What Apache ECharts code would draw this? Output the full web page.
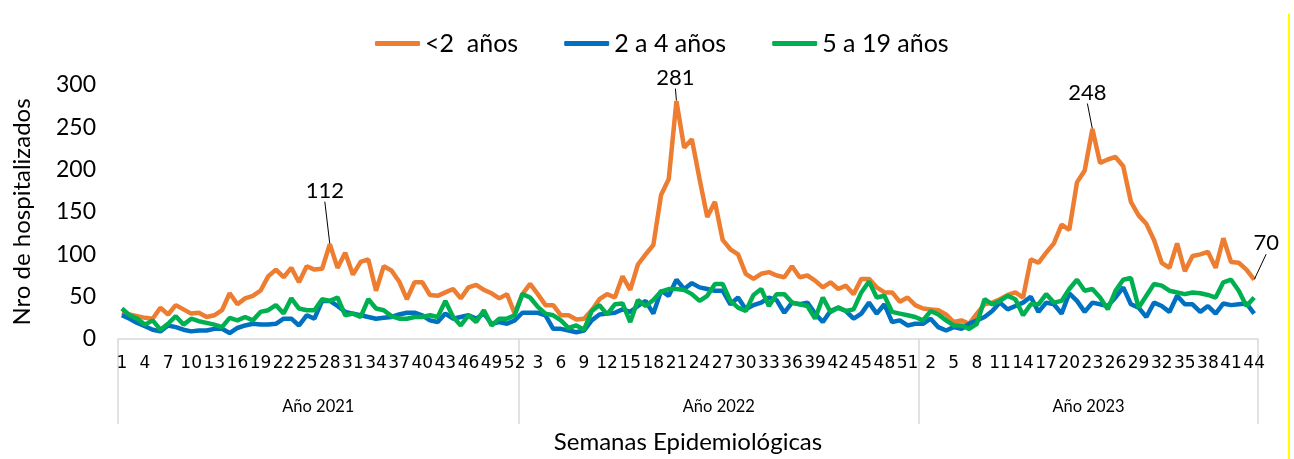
<!doctype html>
<html>
<head>
<meta charset="UTF-8">
<title>Hospitalizados por semana epidemiológica</title>
<script src="https://cdn.jsdelivr.net/npm/echarts@6/dist/echarts.min.js"></script>
<style>
  html, body { margin: 0; padding: 0; background: #fff; }
  #chart { width: 1294px; height: 459px; }
</style>
</head>
<body>
<div id="chart"></div>
<script>
// semanas por año
var semanas2021 = [];
for (var w = 1; w <= 52; w++) semanas2021.push(w);
var semanas2022 = semanas2021.slice();
var semanas2023 = semanas2021.slice(0, 44);
var anios = ['Año 2021', 'Año 2022', 'Año 2023'];

// <2 años
var menores2_2021 = [31,29,27,25,24,37,29,40,35,30, 31,26,28,34,54,41,48,51,57,74,
  82,73,84,67,86,82,83,112,84,102, 76,91,94,57,86,81,68,47,67,67,
  52,51,55,59,48,61,64,58,54,48, 53,30];
var menores2_2022 = [53,65,53,40,40,28,28,23,24,34, 47,53,49,74,58,88,100,111,170,189,
  281,226,236,189,144,162,117,106,100,77, 71,77,79,75,73,86,73,75,69,61,
  67,59,63,53,71,71,61,55,55,44, 49,40];
var menores2_2023 = [36,35,34,29,20,22,18,30,41,43, 47,52,55,49,94,90,102,113,135,129,
  185,199,248,208,212,215,204,162,146,136, 117,90,84,113,80,98,100,103,84,119,
  91,90,82,70];

// 2 a 4 años
var de2a4_2021 = [28,24,19,15,11,9,16,14,11,9, 10,10,12,12,7,13,16,18,17,17,
  18,24,24,16,28,24,45,45,39,32, 30,28,26,24,25,26,29,31,31,28,
  22,20,30,24,26,28,24,30,18,20, 18,22];
var de2a4_2022 = [31,31,31,28,12,12,10,8,10,22, 29,30,31,35,32,39,45,30,57,51,
  70,59,66,61,59,57,57,41,49,35, 40,43,49,46,31,43,41,43,30,20,
  33,37,33,24,30,43,30,41,20,22, 16,18];
var de2a4_2023 = [18,24,14,10,14,12,18,22,26,33, 43,35,39,43,50,32,43,41,30,54,
  45,32,43,41,39,49,61,41,37,26, 43,39,32,51,41,41,32,39,30,42,
  40,41,42,30];

// 5 a 19 años
var de5a19_2021 = [36,28,24,17,22,11,18,27,17,24, 21,19,17,14,25,22,26,22,32,34,
  40,30,48,36,34,34,47,45,49,28, 30,26,47,36,34,27,24,24,26,26,
  28,26,45,26,16,28,20,34,16,24, 24,28];
var de5a19_2022 = [53,49,38,30,28,22,13,16,11,33, 40,29,41,42,20,46,39,46,56,59,
  59,58,53,45,51,65,65,45,37,33, 52,59,39,53,53,43,41,39,24,49,
  32,37,33,35,55,68,49,51,32,30, 28,26];
var de5a19_2023 = [22,33,29,22,16,16,12,18,47,41, 45,51,47,28,41,41,53,43,45,59,
  70,57,59,49,35,57,70,72,37,51, 65,63,57,55,53,55,54,52,49,67,
  70,57,39,49];

var fuente = 'Lato, "Open Sans", sans-serif';
var fuenteEje = '"DejaVu Sans", sans-serif';

// categorias unicas "año|semana"
var categorias = [];
[semanas2021, semanas2022, semanas2023].forEach(function (arr, k) {
  arr.forEach(function (s) { categorias.push(k + '|' + s); });
});
var menores2 = menores2_2021.concat(menores2_2022, menores2_2023);
var de2a4 = de2a4_2021.concat(de2a4_2022, de2a4_2023);
var de5a19 = de5a19_2021.concat(de5a19_2022, de5a19_2023);

// limites y centros de cada año en el eje
var limites = [0], centros = [];
[semanas2021, semanas2022, semanas2023].forEach(function (arr, k) {
  centros.push(limites[k] + arr.length / 2);
  limites.push(limites[k] + arr.length);
});

// etiquetas de valores destacados: desplazamiento [dx, dy]
var destacados = {};
destacados[27] = [-5, -37];
destacados[52 + 20] = [-1, -7];
destacados[104 + 22] = [-5, -20];
destacados[147] = [12, -20];

var datosMenores = menores2.map(function (v, i) {
  if (destacados[i]) {
    return { value: v, symbolSize: 1, label: { show: true } };
  }
  return v;
});

var chart = echarts.init(document.getElementById('chart'));
var option = {
  animation: false,
  textStyle: { fontFamily: fuente },
  legend: {
    top: 26,
    left: 370,
    itemGap: 46,
    itemWidth: 45,
    itemHeight: 5,
    icon: 'roundRect',
    textStyle: { fontSize: 25, color: '#000', fontFamily: fuente },
    data: ['<2  años', '2 a 4 años', '5 a 19 años']
  },
  grid: { left: 118, right: 36, top: 85, bottom: 117 },
  xAxis: [{
    type: 'category',
    data: categorias,
    boundaryGap: true,
    name: 'Semanas Epidemiológicas',
    nameLocation: 'middle',
    nameGap: 91,
    nameTextStyle: { fontSize: 24, color: '#000', fontFamily: fuente },
    axisLine: { show: true, lineStyle: { color: '#d9d9d9', width: 1.5 } },
    axisTick: { show: false },
    axisLabel: {
      interval: 2,
      margin: 16,
      fontSize: 17,
      color: '#000',
      fontFamily: fuenteEje,
      formatter: function (v) { return v.split('|')[1]; }
    }
  }, {
    type: 'value',
    min: 0,
    max: limites[limites.length - 1],
    position: 'bottom',
    offset: 0,
    axisLine: { show: false },
    splitLine: { show: false },
    axisTick: {
      show: true,
      customValues: limites,
      length: 85,
      lineStyle: { color: '#d9d9d9', width: 1.5 }
    },
    axisLabel: {
      customValues: centros,
      margin: 59,
      fontSize: 16.5,
      color: '#000',
      fontFamily: fuente,
      formatter: function (v) {
        var k = centros.indexOf(v);
        return k >= 0 ? anios[k] : '';
      }
    }
  }],
  yAxis: {
    type: 'value',
    min: 0,
    max: 300,
    interval: 50,
    name: 'Nro de hospitalizados',
    nameLocation: 'middle',
    nameGap: 84,
    nameTextStyle: { fontSize: 24, color: '#000', fontFamily: fuente },
    axisLine: { show: false },
    axisTick: { show: false },
    splitLine: { show: false },
    axisLabel: { fontSize: 23, color: '#000', margin: 22, fontFamily: fuente }
  },
  series: [{
    name: '<2  años',
    type: 'line',
    data: datosMenores,
    symbol: 'circle',
    symbolSize: 0,
    showSymbol: true,
    showAllSymbol: true,
    lineStyle: { color: '#ED7D31', width: 4.5 },
    itemStyle: { color: '#ED7D31' },
    label: { show: false, position: 'top', distance: 5, fontSize: 22, color: '#000', fontFamily: fuente },
    labelLine: { show: true, lineStyle: { color: '#000', width: 1 } },
    labelLayout: function (p) {
      var d = destacados[p.dataIndex];
      return d ? { dx: d[0], dy: d[1] } : {};
    }
  }, {
    name: '2 a 4 años',
    type: 'line',
    data: de2a4,
    symbol: 'none',
    lineStyle: { color: '#0070C0', width: 4.5 },
    itemStyle: { color: '#0070C0' }
  }, {
    name: '5 a 19 años',
    type: 'line',
    data: de5a19,
    symbol: 'none',
    lineStyle: { color: '#00B050', width: 4.5 },
    itemStyle: { color: '#00B050' }
  }],
  graphic: [{
    type: 'line',
    shape: { x1: 1289, y1: 14, x2: 1289, y2: 459 },
    style: { stroke: '#FFFF00', lineWidth: 2 }
  }]
};
chart.setOption(option);
</script>
</body>
</html>
